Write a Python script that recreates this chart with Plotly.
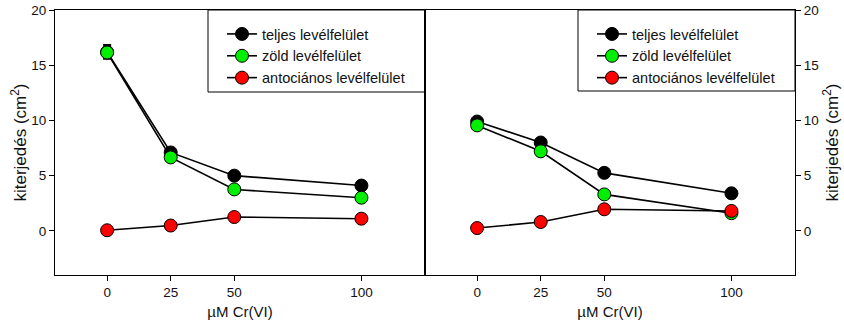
import plotly.graph_objects as go

# Cr(VI) concentrations (µM)
conc = [0, 25, 50, 100]

# Leaf area (cm2), left panel
left_total = [16.2, 7.1, 5.0, 4.1]
left_total_err = [0.62, 0.15, 0.1, 0.1]
left_green = [16.15, 6.65, 3.75, 3.0]
left_antho = [0.05, 0.48, 1.25, 1.1]

# Leaf area (cm2), right panel
right_total = [9.9, 8.0, 5.25, 3.4]
right_green = [9.55, 7.2, 3.3, 1.6]
right_antho = [0.25, 0.8, 1.95, 1.8]

series_names = ["teljes levélfelület", "zöld levélfelület", "antociános levélfelület"]
series_colors = ["#000000", "#00ee00", "#ff0000"]

x_ticks = [0, 25, 50, 100]
y_ticks = [0, 5, 10, 15, 20]
x_title = "µM Cr(VI)"
y_title = "kiterjedés (cm<sup>2</sup>)"

W, H = 844, 324
FONT = "Liberation Sans, Arial, Helvetica, sans-serif"


def px_x(p):
    return p / W


def px_y(p):
    return 1 - p / H


fig = go.Figure()

panels = [
    ("x", "y", [left_total, left_green, left_antho], left_total_err, "legend"),
    ("x2", "y2", [right_total, right_green, right_antho], None, "legend2"),
]

for xa, ya, values, err, leg in panels:
    for i, (name, color, vals) in enumerate(zip(series_names, series_colors, values)):
        kw = {}
        if i == 0 and err is not None:
            kw["error_y"] = dict(type="data", array=err, color="black",
                                 thickness=2, width=4, visible=True)
        fig.add_trace(go.Scatter(
            x=conc, y=vals, name=name, mode="lines+markers",
            xaxis=xa, yaxis=ya, legend=leg,
            line=dict(color="black", width=1.6),
            marker=dict(color=color, size=13, line=dict(color="black", width=1)),
            **kw,
        ))

x_left = px_x(55)
x_mid = px_x(425)
x_right = px_x(795)
y_top = px_y(10)
y_bot = px_y(275)

common_x = dict(
    range=[-20.5, 125], tickvals=x_ticks, ticks="outside", ticklen=5,
    tickcolor="black", showline=True, linecolor="black", linewidth=1,
    mirror=True, showgrid=False, zeroline=False,
    tickfont=dict(size=13.5, color="#111"),
    title=dict(text=x_title, font=dict(size=15, color="#111"), standoff=7),
    automargin=False,
)
common_y = dict(
    range=[-4, 20], tickvals=y_ticks, ticks="outside", ticklen=5,
    tickcolor="black", showline=True, linecolor="black", linewidth=1,
    mirror=True, showgrid=False, zeroline=False,
    tickfont=dict(size=13.5, color="#111"),
    automargin=False,
)
y_title_font = dict(size=17, color="#111")

legend_common = dict(
    bgcolor="rgba(0,0,0,0)", borderwidth=0,
    font=dict(size=14.5, color="#111", family=FONT),
    xanchor="left", yanchor="top", tracegroupgap=0, itemwidth=30,
)

fig.update_layout(
    width=W, height=H,
    margin=dict(l=0, r=0, t=0, b=0),
    paper_bgcolor="white", plot_bgcolor="white",
    font=dict(family=FONT),
    xaxis=dict(domain=[x_left, x_mid], anchor="y", **common_x),
    yaxis=dict(domain=[y_bot, y_top], anchor="x", side="left",
               title=dict(text=y_title, font=y_title_font, standoff=0),
               **common_y),
    xaxis2=dict(domain=[x_mid, x_right], anchor="y2", **common_x),
    yaxis2=dict(domain=[y_bot, y_top], anchor="x2", side="right",
                title=dict(text=y_title, font=y_title_font, standoff=8),
                **common_y),
    legend=dict(x=px_x(222), y=px_y(18), **legend_common),
    legend2=dict(x=px_x(592), y=px_y(18), **legend_common),
    shapes=[
        dict(type="rect", xref="paper", yref="paper",
             x0=px_x(208), x1=px_x(425), y0=px_y(92), y1=px_y(10),
             line=dict(color="black", width=1), fillcolor="rgba(0,0,0,0)"),
        dict(type="rect", xref="paper", yref="paper",
             x0=px_x(578), x1=px_x(795), y0=px_y(91), y1=px_y(10),
             line=dict(color="black", width=1), fillcolor="rgba(0,0,0,0)"),
    ],
)

fig.write_html("out.html")
